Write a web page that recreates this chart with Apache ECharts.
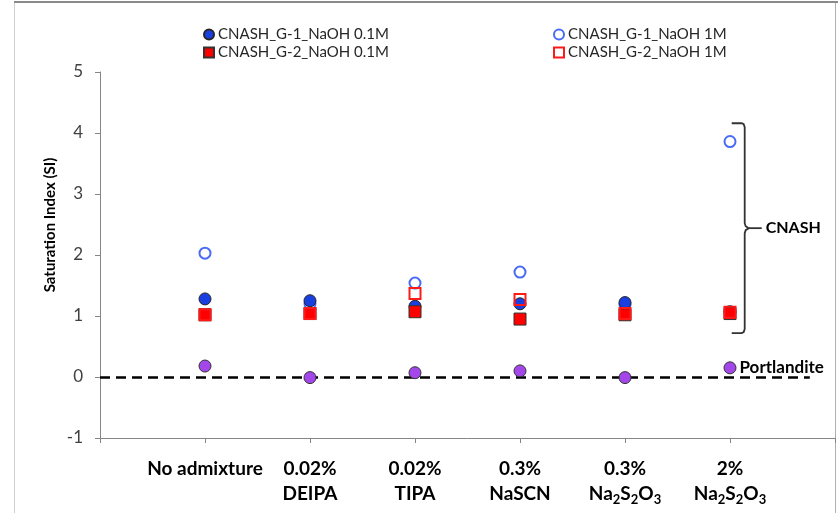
<!DOCTYPE html>
<html>
<head>
<meta charset="utf-8">
<script src="https://cdn.jsdelivr.net/npm/echarts@6/dist/echarts.min.js"></script>
<style>
html,body{margin:0;padding:0;background:#fff;}
#c{width:838px;height:513px;}
</style>
</head>
<body>
<div id="c"></div>
<script>
// ---- data ----
var categories = ['No admixture', '0.02%\nDEIPA', '0.02%\nTIPA', '0.3%\nNaSCN', '0.3%\nNa{s|2}S{s|2}O{s|3}', '2%\nNa{s|2}S{s|2}O{s|3}'];
var seriesNames = ['CNASH_G-1_NaOH 0.1M', 'CNASH_G-1_NaOH 1M', 'CNASH_G-2_NaOH 0.1M', 'CNASH_G-2_NaOH 1M', 'Portlandite'];
var g1_01 = [1.28, 1.25, 1.16, 1.20, 1.22, 1.07];
var g1_1 = [2.03, 1.20, 1.54, 1.72, 1.19, 3.86];
var g2_01 = [1.02, 1.04, 1.07, 0.95, 1.02, 1.04];
var g2_1 = [1.02, 1.04, 1.37, 1.27, 1.04, 1.06];
var portlandite = [0.18, -0.01, 0.07, 0.10, -0.01, 0.15];
var yTicks = [-1, 0, 1, 2, 3, 4, 5];
var bracketRange = [0.72, 4.16];

function pts(arr) { return arr.map(function (v, i) { return [i + 1, v]; }); }

var FONT = 'Lato';
var chart = echarts.init(document.getElementById('c'));
var option = {
  animation: false,
  backgroundColor: '#fff',
  grid: { left: 100, right: 3, top: 72, bottom: 75, containLabel: false },
  legend: [
    { data: [seriesNames[0]], left: 198, top: 22 },
    { data: [seriesNames[1]], left: 548, top: 22 },
    { data: [seriesNames[2]], left: 198, top: 40 },
    { data: [seriesNames[3]], left: 548, top: 40 }
  ].map(function (l) {
    l.itemWidth = 10; l.itemHeight = 10; l.itemGap = 5;
    l.textStyle = { fontFamily: FONT, fontSize: 15, color: '#262626', padding: [0, 0, 0, -1] };
    return l;
  }),
  xAxis: {
    type: 'value', min: 0, max: 7, interval: 1,
    splitLine: { show: false },
    axisLine: { show: true, onZero: false, lineStyle: { color: '#868686', width: 1 } },
    axisTick: { show: true, length: 5, lineStyle: { color: '#868686' } },
    axisLabel: {
      margin: 18,
      fontFamily: FONT, fontSize: 19, fontWeight: 'bold', color: '#000', lineHeight: 25,
      formatter: function (v) { return (v >= 1 && v <= 6) ? categories[v - 1] : ''; },
      rich: { s: { fontFamily: FONT, fontSize: 13, fontWeight: 'bold', color: '#000', verticalAlign: 'bottom', lineHeight: 13 } }
    }
  },
  yAxis: {
    type: 'value', min: yTicks[0], max: yTicks[yTicks.length - 1], interval: 1,
    splitLine: { show: false },
    axisLine: { show: true, onZero: false, lineStyle: { color: '#868686', width: 1 } },
    axisTick: { show: true, length: 5, lineStyle: { color: '#868686' } },
    axisLabel: { margin: 17, fontFamily: FONT, fontSize: 17, color: '#404040' }
  },
  series: [
    {
      name: seriesNames[1], type: 'scatter', data: pts(g1_1), z: 2,
      symbol: 'circle', symbolSize: 11,
      itemStyle: { color: 'rgba(255,255,255,0)', borderColor: '#4a6cf5', borderWidth: 2, opacity: 1 }
    },
    {
      name: seriesNames[0], type: 'scatter', data: pts(g1_01), z: 3,
      symbol: 'circle', symbolSize: 12,
      itemStyle: { color: '#1a3fe0', borderColor: '#262626', borderWidth: 1, opacity: 1 }
    },
    {
      name: seriesNames[2], type: 'scatter', data: pts(g2_01), z: 4,
      symbol: 'rect', symbolSize: 12,
      itemStyle: { color: '#ff0000', borderColor: '#333', borderWidth: 1, opacity: 1 }
    },
    {
      name: seriesNames[3], type: 'scatter', data: pts(g2_1), z: 5,
      symbol: 'rect', symbolSize: 11,
      itemStyle: { color: 'rgba(255,255,255,0)', borderColor: '#ff1a1a', borderWidth: 2, opacity: 1 }
    },
    {
      name: seriesNames[4], type: 'scatter', data: pts(portlandite), z: 6,
      symbol: 'circle', symbolSize: 12,
      itemStyle: { color: '#a347ea', borderColor: '#333', borderWidth: 1, opacity: 1 },
      label: {
        show: true, position: 'right', distance: 3,
        fontFamily: FONT, fontSize: 17, fontWeight: 'bold', color: '#000',
        formatter: function (p) { return p.dataIndex === portlandite.length - 1 ? seriesNames[4] : ''; }
      },
      markLine: {
        silent: true, symbol: 'none', label: { show: false },
        lineStyle: { color: '#000', type: [10, 6], width: 2.5 },
        data: [[{ coord: [0, 0] }, { coord: [6.76, 0] }]]
      }
    }
  ]
};
chart.setOption(option);

// bracket annotation for CNASH
var pTop = chart.convertToPixel({ xAxisIndex: 0, yAxisIndex: 0 }, [6.14, bracketRange[1]]);
var pBot = chart.convertToPixel({ xAxisIndex: 0, yAxisIndex: 0 }, [6.14, bracketRange[0]]);
var x = pTop[0], y1 = pTop[1], y2 = pBot[1], ym = (y1 + y2) / 2;
var bracketPts = [
  [x - 13, y1], [x - 3, y1], [x - 1, y1 + 1], [x, y1 + 4],
  [x, ym - 5], [x + 1, ym - 2], [x + 4, ym], [x + 1, ym + 2], [x, ym + 5],
  [x, y2 - 4], [x - 1, y2 - 1], [x - 3, y2], [x - 13, y2]
];
chart.setOption({
  graphic: [
    { type: 'polyline', shape: { points: bracketPts }, style: { fill: null, stroke: '#333', lineWidth: 1.8 } },
    { type: 'line', shape: { x1: x + 4, y1: ym, x2: x + 17, y2: ym }, style: { stroke: '#333', lineWidth: 1.8 } },
    { type: 'text', x: x + 21, y: ym, style: { text: 'CNASH', fontFamily: FONT, fontSize: 16, fontWeight: 'bold', fill: '#000', verticalAlign: 'middle' } },
    { type: 'text', x: 50, y: 225, rotation: Math.PI / 2, style: { text: 'Saturation Index (SI)', fontFamily: FONT, fontSize: 15, fontWeight: 'bold', fill: '#000', align: 'center', verticalAlign: 'middle' } },
    { type: 'line', shape: { x1: 14, y1: 2, x2: 838, y2: 2 }, style: { stroke: '#8a8a8a', lineWidth: 2 } },
    { type: 'line', shape: { x1: 14.5, y1: 3, x2: 14.5, y2: 513 }, style: { stroke: '#d0d0d0', lineWidth: 1 } },
    { type: 'line', shape: { x1: 835.5, y1: 3, x2: 835.5, y2: 513 }, style: { stroke: '#b0b0b0', lineWidth: 1 } }
  ]
});
</script>
</body>
</html>
